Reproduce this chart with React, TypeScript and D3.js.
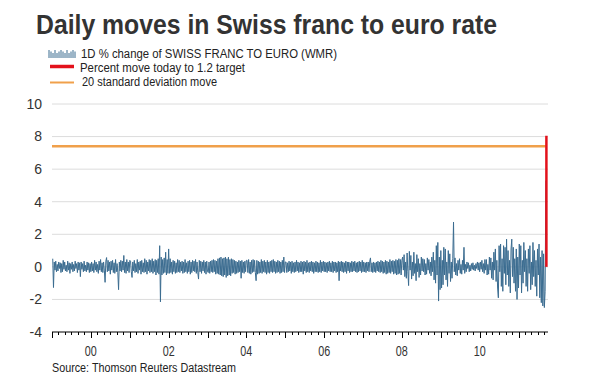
import React from "react";
import * as d3 from "d3";

const W = 600;
const H = 376;

// 1D % change of SWISS FRANC TO EURO, read roughly weekly from the picture
const y1999 = [0.5, -1.27, 0.3, -0.2, 0.35, -0.3, 0.15, -0.25, 0.3, -0.1, 0.25, -0.35, 0.2, -0.3, 0.4, -0.15, 0.3, -0.25, 0.1, -0.3, 0.35, -0.2, 0.25, -0.4, 0.2, -0.15, 0.3, -0.3, 0.15, -0.25, 0.35, -0.1, 0.2, -0.35, 0.3, -0.2, 0.25, -0.6, 0.3, -0.15, 0.2, -0.3, 0.35, -0.25, 0.1, -0.3, 0.3, -0.2, 0.25, -0.35, 0.2, -0.3];
const y2000 = [0.3, -0.25, 0.2, -0.35, 0.4, -0.2, 0.3, -0.3, 0.15, -0.4, 0.35, -0.2, 0.45, -0.3, 0.25, -0.35, 0.3, -0.2, -0.95, 0.35, 0.57, -0.3, 0.4, -0.25, 0.3, -0.45, 0.35, -0.2, 0.4, -0.35, 0.25, -0.4, 0.45, -0.3, 0.2, -0.35, -1.4, 0.3, -0.25, 0.4, -0.3, 0.35, -0.2, 0.7, -0.35, 0.3, -0.4, 0.45, -0.25, 0.3, -0.35, 0.4];
const y2001 = [0.35, -0.3, -0.65, 0.3, -0.25, 0.4, -0.35, 0.2, -0.3, 0.45, -0.4, 0.3, -0.2, 0.35, -0.45, 0.4, -0.3, 0.25, -0.35, 0.5, -0.3, 0.4, -0.45, 0.3, -0.25, 0.45, -0.35, 0.4, -0.3, 0.5, -0.4, 0.35, -0.3, 0.45, -0.5, 0.4, -0.35, 0.5, -0.45, 1.3, -2.15, 0.6, -0.5, 0.45, -0.4, 0.55, -0.35, 0.9, -0.5, 0.45, -0.4, 1.1];
const y2002 = [-0.4, 0.5, -0.35, 0.3, -0.45, 0.4, -0.3, 0.35, -0.4, 0.25, -0.35, 0.45, -0.3, 0.4, -0.35, 0.3, -0.25, 0.35, -0.4, 0.3, -0.35, 0.45, -0.3, 0.25, -0.4, 0.35, -0.3, 0.4, -0.45, 0.3, -0.35, 0.4, -0.25, 0.35, -0.3, 0.45, -0.4, 0.3, -0.35, -0.75, 0.4, -0.3, 0.35, -0.4, 0.3, -0.25, 0.4, -0.35, 0.3, -0.45, 0.35, -0.3];
const y2003 = [-0.35, 0.3, -0.4, 0.35, -0.3, 0.4, -0.35, 0.45, -0.3, 0.4, -0.45, 0.35, -0.4, 0.5, -0.45, 0.55, -0.5, 0.6, -0.55, 0.5, -0.6, 0.55, -0.5, 0.6, -0.65, 0.5, -0.55, 0.6, -0.5, 0.45, -0.55, 0.5, -0.4, 0.45, -0.35, 0.4, -0.45, 0.35, -0.4, 0.3, -0.35, 0.4, -0.3, 0.35, -0.7, 0.4, -0.35, 0.3, -0.4, 0.35, -0.3, 0.4];
const y2004 = [0.4, -0.35, 0.45, -0.4, 0.3, -0.45, 0.4, -0.35, 0.45, -0.3, 0.4, -0.35, -0.85, 0.4, -0.45, 0.35, -0.4, 0.3, -0.35, 0.45, -0.4, 0.35, -0.3, 0.4, -0.35, 0.3, -0.45, 0.4, -0.35, 0.3, -0.4, 0.35, -0.3, 0.4, -0.35, 0.45, -0.3, 0.35, -0.4, 0.3, -0.35, 0.4, -0.3, 0.35, -0.4, 0.3, -0.35, 0.4, -0.3, 0.6, -0.35, 0.3];
const y2005 = [0.3, -0.35, 0.25, -0.3, 0.35, -0.25, 0.3, -0.4, 0.35, -0.3, 0.25, -0.35, 0.3, -0.3, 0.4, -0.25, 0.3, -0.35, 0.25, -0.3, 0.35, -0.3, 0.3, -0.45, 0.35, -0.25, 0.3, -0.35, 0.4, -0.3, 0.25, -0.35, 0.3, -0.25, 0.35, -0.3, 0.3, -0.4, 0.25, -0.3, 0.35, -0.3, 0.3, -0.35, 0.25, -0.3, 0.4, -0.35, 0.3, -0.25, 0.35, -0.3];
const y2006 = [0.3, -0.3, 0.25, -0.35, 0.3, -0.25, 0.35, -0.3, 0.25, -0.3, 0.35, -0.35, 0.3, -0.25, 0.3, -0.35, 0.25, -0.3, 0.35, -0.85, 0.3, -0.25, 0.35, -0.3, 0.3, -0.35, 0.25, -0.3, 0.35, -0.4, 0.3, -0.25, 0.3, -0.35, 0.25, -0.3, 0.35, -0.3, 0.3, -0.25, 0.35, -0.3, 0.25, -0.35, 0.3, -0.3, 0.35, -0.25, 0.3, -0.35, 0.4, -0.3];
const y2007 = [0.3, -0.3, 0.25, -0.35, 0.3, -0.25, 0.3, -0.3, 0.35, 0.55, -0.3, 0.25, -0.35, 0.3, -0.3, 0.25, -0.35, 0.3, -0.25, 0.35, -0.3, 0.3, -0.35, 0.4, -0.3, 0.35, -0.4, 0.3, -0.35, 0.4, -0.45, 0.35, -0.4, 0.3, -0.35, 0.45, -0.4, 0.35, -0.3, 0.4, -0.45, 0.35, -0.4, 0.45, -0.5, 0.4, -0.45, 0.5, -0.4, 0.45, -0.5, 0.4];
const y2008 = [0.6, -0.2, 0.75, -0.6, 0.3, -0.7, 0.85, -0.3, -1.15, 0.95, -0.2, 0.7, -0.75, 0.3, -0.55, 0.9, -0.4, 0.2, -0.85, 0.75, -0.3, 0.5, -0.65, 0.2, -0.5, 0.6, -0.25, 0.5, -0.3, 0.45, -0.5, 0.2, -0.45, 0.55, -0.2, 0.45, -0.4, 0.3, -0.55, 0.6, -0.3, 0.9, -0.8, 0.4, -1.0, 1.3, -0.5, 1.5, -2.1, 0.6, -1.4, 1.0];
const y2009 = [-1.3, 0.4, -1.1, 1.2, -0.5, 1.1, -0.8, 0.3, -1.2, 1.0, -0.4, 0.8, -0.9, 0.3, -0.7, 0.5, 2.75, -0.3, 0.55, -0.5, 0.2, -0.55, 0.4, -0.2, 0.5, -0.4, 0.15, -0.45, 0.4, -0.2, 1.2, -0.4, 0.15, -0.3, 0.3, -0.1, 0.25, -0.3, 0.1, -0.25, 0.2, -0.15, 0.25, -0.2, 0.1, -0.25, 0.2, -0.1, 0.3, -0.2, 0.25, -0.3];
const y2010 = [0.3, -0.15, 0.4, -0.3, 0.2, -0.4, 0.45, -0.2, 0.45, -0.5, 0.15, -0.45, 0.6, -0.2, 0.55, -0.7, 0.3, -0.8, 0.9, -0.2, 1.1, -0.9, 0.4, -1.3, -1.9, 1.3, -0.3, 1.4, -1.2, 0.5, -1.5, 1.3, -0.4, 1.2, -1.1, 1.7, -0.5, 1.0, -1.2, 0.4, -1.6, 1.1, 1.7, -0.6, 1.2, -1.0, 0.5, -1.5, 1.1, -2.0, 0.6, -1.3];
const y2011 = [1.4, -0.5, 1.3, -1.6, 0.4, -1.0, 1.5, -0.3, 1.0, -1.2, 0.5, -1.5, 1.1, -0.4, 1.3, -1.4, 0.3, -1.1, 1.5, -0.6, 1.0, -1.2, 0.4, -1.8, 1.1, -0.5, 1.4, -1.9, 0.6, -2.2, 1.0, -2.4, 0.8, -2.5, -1.5, 5.3];

const seriesYears = [1999, 2000, 2001, 2002, 2003, 2004, 2005, 2006, 2007, 2008, 2009, 2010, 2011];
const seriesValues = [y1999, y2000, y2001, y2002, y2003, y2004, y2005, y2006, y2007, y2008, y2009, y2010, y2011];
const lastDataDate = new Date(2011, 8, 15);

// Percent move today to 1.2 target
const targetDate = new Date(2011, 8, 20);
const targetMove = [0, 8.05];
// 20 standard deviation move
const sdMove = 7.4;

const yTicks = [-4, -2, 0, 2, 4, 6, 8, 10];
const xLabelYears = [2000, 2002, 2004, 2006, 2008, 2010];
const xDomain = [new Date(1999, 0, 1), new Date(2011, 9, 5)];

const title = "Daily moves in Swiss franc to euro rate";
const legendLabels = [
  "1D % change of SWISS FRANC TO EURO (WMR)",
  "Percent move today to 1.2 target",
  "20 standard deviation move",
];
const source = "Source: Thomson Reuters Datastream";

const BLUE = "#3b6c90";
const RED = "#e3111b";
const ORANGE = "#f0a04b";
const FONT = "'Liberation Sans', Arial, sans-serif";

export default function App() {
  const left = 52, right = 548, top = 104, bottom = 332;
  const x = d3.scaleTime().domain(xDomain).range([left, right]);
  const y = d3.scaleLinear().domain([-4, 10]).range([bottom, top]);

  const points: { d: Date; v: number }[] = [];
  seriesYears.forEach((yr, k) => {
    const vals = seriesValues[k];
    const start = new Date(yr, 0, 1).getTime();
    const end = yr === 2011 ? lastDataDate.getTime() : new Date(yr + 1, 0, 1).getTime();
    vals.forEach((v, i) => {
      points.push({ d: new Date(start + ((i + 1) / vals.length) * (end - start)), v });
    });
  });

  const line = d3
    .line<{ d: Date; v: number }>()
    .x((p) => x(p.d))
    .y((p) => y(p.v));

  const redPath = d3
    .line<number>()
    .x(() => x(targetDate))
    .y((v) => y(v))(targetMove);

  const minorTicks = d3.timeMonth.every(2)!.range(xDomain[0], xDomain[1]);
  const majorTicks = d3.timeYear.range(xDomain[0], xDomain[1]);

  const iconBars = d3.range(0, 28, 2);

  return (
    <svg width={W} height={H} style={{ position: "absolute", left: 0, top: 0, background: "#fff" }}>
      <text x={36} y={34} fontFamily={FONT} fontWeight="bold" fontSize={27} fill="#333" textLength={461} lengthAdjust="spacingAndGlyphs">
        {title}
      </text>

      {/* legend */}
      <g>
        {iconBars.map((dx, i) => (
          <line key={i} x1={49 + dx} x2={49 + dx} y1={58} y2={58 - (i % 3 === 0 ? 8 : i % 2 === 0 ? 5 : 6.5)} stroke={BLUE} strokeWidth={1} />
        ))}
        <text x={81} y={58} fontFamily={FONT} fontSize={12.5} fill="#222" textLength={256} lengthAdjust="spacingAndGlyphs">{legendLabels[0]}</text>
        <line x1={50} x2={74} y1={66.5} y2={66.5} stroke={RED} strokeWidth={3.5} />
        <text x={80} y={72} fontFamily={FONT} fontSize={12.5} fill="#222" textLength={165} lengthAdjust="spacingAndGlyphs">{legendLabels[1]}</text>
        <line x1={50} x2={74} y1={82.5} y2={82.5} stroke={ORANGE} strokeWidth={2} />
        <text x={82} y={86} fontFamily={FONT} fontSize={12.5} fill="#222" textLength={135} lengthAdjust="spacingAndGlyphs">{legendLabels[2]}</text>
      </g>

      {/* gridlines */}
      {yTicks.filter((t) => t > -4).map((t) => (
        <line key={t} x1={left} x2={right} y1={y(t)} y2={y(t)} stroke="#dcdcdc" strokeWidth={1} />
      ))}
      {yTicks.map((t) => (
        <text key={"l" + t} x={42} y={y(t)} dy="0.35em" textAnchor="end" fontFamily={FONT} fontSize={14} fill="#333">
          {t}
        </text>
      ))}

      {/* series */}
      <path d={line(points) || ""} fill="none" stroke={BLUE} strokeWidth={1} strokeLinejoin="miter" />
      <line x1={left} x2={right - 1} y1={y(sdMove)} y2={y(sdMove)} stroke={ORANGE} strokeWidth={2.5} />
      <path d={redPath || ""} stroke={RED} strokeWidth={2.5} fill="none" />

      {/* x axis */}
      <line x1={left} x2={right} y1={bottom} y2={bottom} stroke="#000" strokeWidth={1} />
      {minorTicks.map((d, i) => (
        <line key={"m" + i} x1={Math.round(x(d)) + 0.5} x2={Math.round(x(d)) + 0.5} y1={bottom} y2={bottom + 3} stroke="#000" />
      ))}
      {majorTicks.map((d, i) => (
        <line key={"M" + i} x1={Math.round(x(d)) + 0.5} x2={Math.round(x(d)) + 0.5} y1={bottom} y2={bottom + 6} stroke="#000" />
      ))}
      {xLabelYears.map((yr) => (
        <text key={yr} x={x(new Date(yr, 0, 1))} y={351} dy="0.35em" textAnchor="middle" fontFamily={FONT} fontSize={14} fill="#333" textLength={12} lengthAdjust="spacingAndGlyphs">
          {d3.timeFormat("%y")(new Date(yr, 0, 1))}
        </text>
      ))}

      <text x={52} y={372} fontFamily={FONT} fontSize={12} fill="#222" textLength={184} lengthAdjust="spacingAndGlyphs">
        {source}
      </text>
    </svg>
  );
}
